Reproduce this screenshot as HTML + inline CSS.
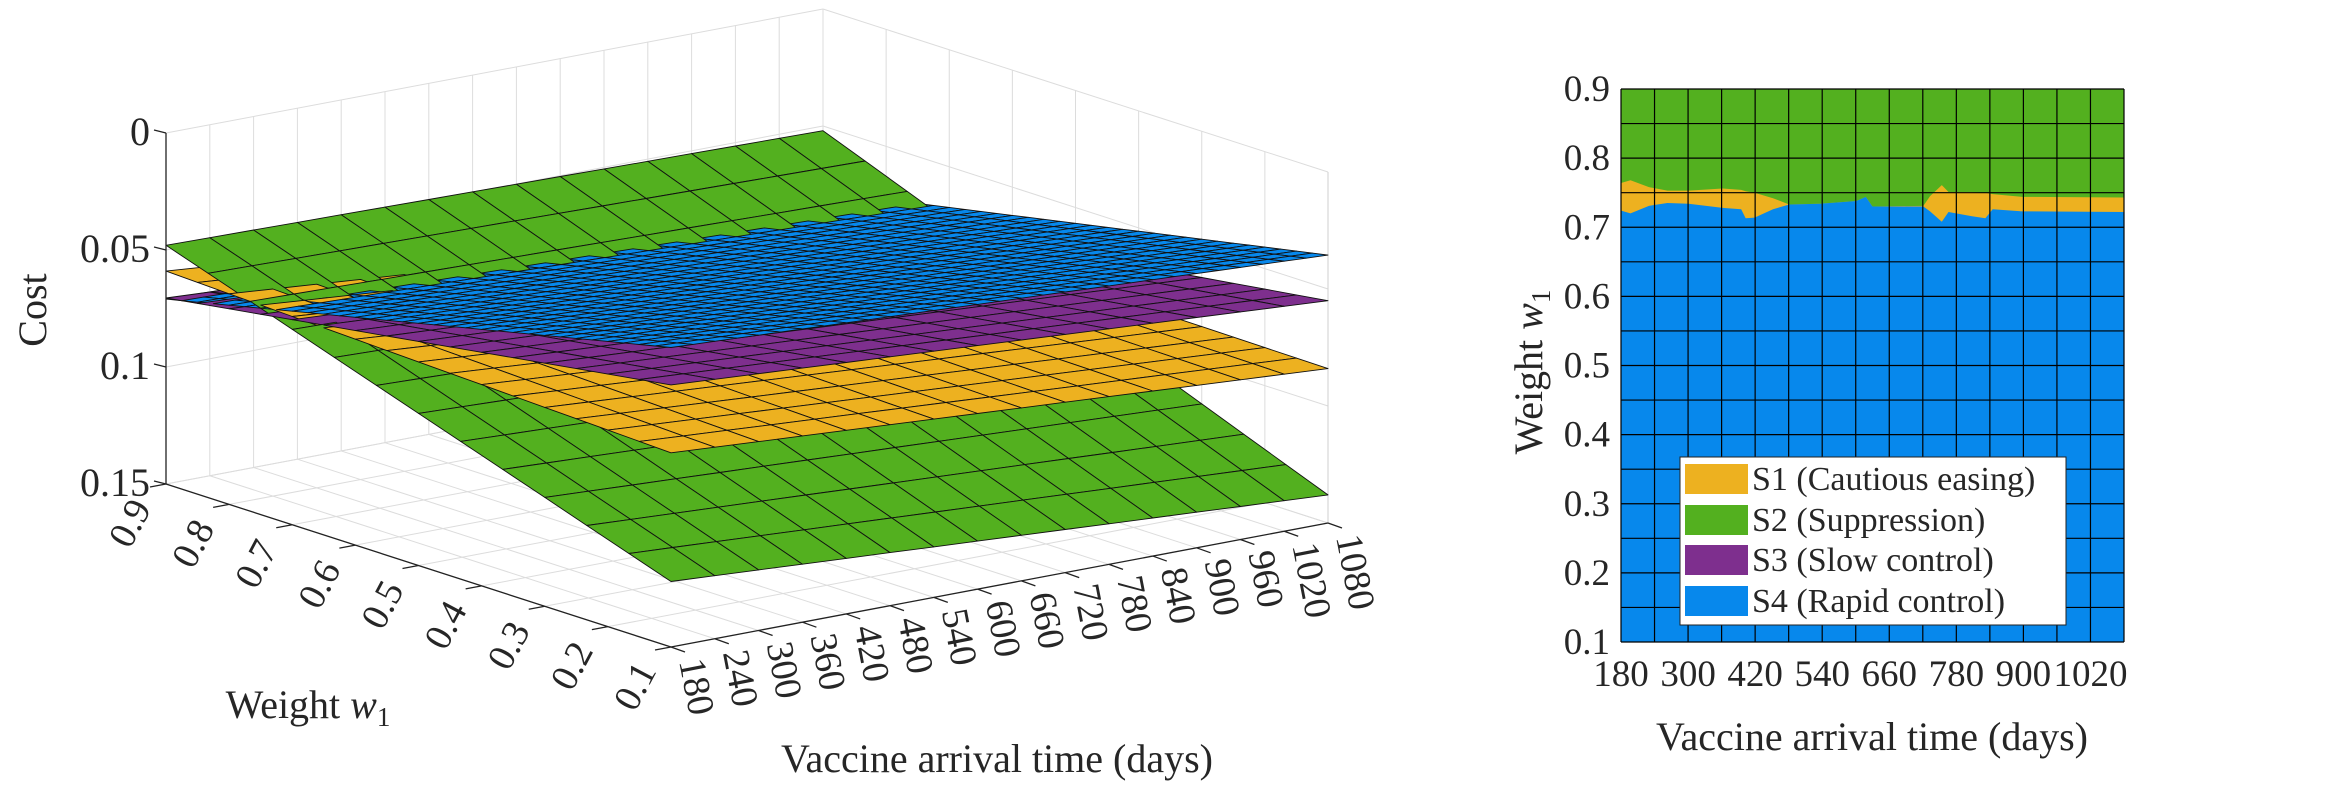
<!DOCTYPE html>
<html><head><meta charset="utf-8"><style>
html,body{margin:0;padding:0;background:#fff;}
svg, svg text{font-family:"Liberation Serif","DejaVu Serif",serif;}
</style></head><body>
<svg id="fig" width="2344" height="781" viewBox="0 0 2344 781" xmlns="http://www.w3.org/2000/svg" font-family="Liberation Serif, DejaVu Serif, serif">
<g id="left3d"></g>
<g id="right2d"></g>
</svg>
<script>
// ===== data: 3D surface plot =====
const costTicks = [0, 0.05, 0.1, 0.15];
const costTickLabels = ["0", "0.05", "0.1", "0.15"];
const weightTicks = [0.9, 0.8, 0.7, 0.6, 0.5, 0.4, 0.3, 0.2, 0.1];
const dayTicks = [180,240,300,360,420,480,540,600,660,720,780,840,900,960,1020,1080];
// corner costs [w=0.9,d=180], [w=0.9,d=1080], [w=0.1,d=180], [w=0.1,d=1080]
const costS1 = [0.059, 0.082, 0.067, 0.084];
const costS2 = [0.048, 0.052, 0.122, 0.138];
const costS3 = [0.0705, 0.085, 0.038, 0.055];
const costS4 = [0.071, 0.078, 0.022, 0.0355];
// ===== data: 2D region plot =====
const regionDays = [180,197,230,263,301,362,395,403,419,452,481,535,601,618,630,721,733,754,766,808,832,845,898,1080];
const s4Top = [0.724,0.720,0.731,0.735,0.734,0.728,0.726,0.713,0.714,0.726,0.733,0.734,0.738,0.744,0.730,0.730,0.723,0.708,0.722,0.716,0.713,0.726,0.723,0.722];
const s1Top = [0.764,0.768,0.758,0.753,0.753,0.756,0.754,0.752,0.750,0.742,0.733,0.734,0.738,0.744,0.730,0.731,0.745,0.761,0.751,0.751,0.750,0.748,0.744,0.743];
const xTicks2 = [180,300,420,540,660,780,900,1020];
const yTicks2 = [0.1,0.2,0.3,0.4,0.5,0.6,0.7,0.8,0.9];
const legendLabels = ["S1 (Cautious easing)","S2 (Suppression)","S3 (Slow control)","S4 (Rapid control)"];

const NS="http://www.w3.org/2000/svg";
const FF="Liberation Serif, DejaVu Serif, serif";
const COL={s1:"#edb120",s2:"#53b01f",s3:"#7e2f8e",s4:"#0788ec"};
function mk(tag,attrs,parent){const e=document.createElementNS(NS,tag);for(const k in attrs)e.setAttribute(k,attrs[k]);parent.appendChild(e);return e;}

const L=document.getElementById('left3d');
function P(w,d,c){const a=(0.9-w)/0.8,b=(d-180)/900;return [166+505*a+657*b,484+163*a-124*b-(0.15-c)/0.15*351];}
function near(w,d,c){const a=(0.9-w)/0.8,b=(d-180)/900;return 3.84*(163*a-124*b)+0.252*(0.15-c)/0.15*363;}
function line3(p,q,col,sw,parent,name){const A=P(...p),B=P(...q);const e=mk('line',{x1:A[0],y1:A[1],x2:B[0],y2:B[1],stroke:col,'stroke-width':sw},parent);return e;}
const grid=mk('g',{},L);


const gc="#dcdcdc";
dayTicks.forEach(d=>line3([0.9,d,0],[0.9,d,0.15],gc,1,grid,'wall-grid-day'));
costTicks.forEach(c=>line3([0.9,180,c],[0.9,1080,c],gc,1,grid,'wall-grid-cost'));
weightTicks.forEach(w=>line3([w,1080,0],[w,1080,0.15],gc,1,grid,'wall-grid-weight'));
costTicks.forEach(c=>line3([0.9,1080,c],[0.1,1080,c],gc,1,grid,'wall-grid-cost'));
weightTicks.forEach(w=>line3([w,180,0.15],[w,1080,0.15],gc,1,grid,'floor-grid-weight'));
dayTicks.forEach(d=>line3([0.9,d,0.15],[0.1,d,0.15],gc,1,grid,'floor-grid-day'));
line3([0.1,1080,0],[0.1,1080,0.15],"#cfcfcf",1,grid,'box-edge');

function bil(cs,w,d){const a=(0.9-w)/0.8,b=(d-180)/900;return cs[0]*(1-a)*(1-b)+cs[1]*(1-a)*b+cs[2]*a*(1-b)+cs[3]*a*b;}
const quads=[];
function addSurf(cs,col,nw,nd,name){
  for(let i=0;i<nw;i++)for(let j=0;j<nd;j++){
    const w0=0.9-0.8*i/nw,w1=0.9-0.8*(i+1)/nw,d0=180+900*j/nd,d1=180+900*(j+1)/nd;
    const pts=[[w0,d0],[w0,d1],[w1,d1],[w1,d0]].map(p=>[p[0],p[1],bil(cs,p[0],p[1])]);
    const n=pts.reduce((s,p)=>s+near(...p),0)/4;
    quads.push({pts,col,n,name});
  }
}
addSurf(costS2,COL.s2,12,15,'s2-surface-cell');
addSurf(costS1,COL.s1,16,15,'s1-surface-cell');
addSurf(costS3,COL.s3,16,15,'s3-surface-cell');
addSurf(costS4,COL.s4,32,30,'s4-surface-cell');
quads.sort((a,b)=>a.n-b.n);
const sg=mk('g',{},L);


quads.forEach(q=>{
  const s=q.pts.map(p=>P(...p).map(v=>v.toFixed(1)).join(',')).join(' ');
  const e=mk('polygon',{points:s,fill:q.col,stroke:'#111','stroke-width':0.9,'stroke-linejoin':'round'},sg);
  
  
});

const ax=mk('g',{},L);


line3([0.9,180,0],[0.9,180,0.15],"#222",1.3,ax,'cost-axis-line');
line3([0.9,180,0.15],[0.1,180,0.15],"#222",1.3,ax,'weight-axis-line');
line3([0.1,180,0.15],[0.1,1080,0.15],"#222",1.3,ax,'day-axis-line');
costTicks.forEach((c,i)=>{
  const p=P(0.9,180,c);
  const t=mk('line',{x1:p[0]-12,y1:p[1]-3,x2:p[0],y2:p[1],stroke:'#222','stroke-width':1.3},ax);
  
  
  const tx=mk('text',{x:p[0]-16,y:p[1]+12,'font-size':40,'font-family':FF,'text-anchor':'end',fill:'#262626'},ax);
  tx.textContent=costTickLabels[i];
  
  
});
weightTicks.forEach(w=>{
  const p=P(w,180,0.15);
  const t=mk('line',{x1:p[0]-16,y1:p[1]+3,x2:p[0],y2:p[1],stroke:'#222','stroke-width':1.3},ax);
  
  
  const x=p[0]-14,y=p[1]+24;
  const tx=mk('text',{x:x,y:y,'font-size':38,'font-family':FF,'text-anchor':'end',fill:'#262626',transform:`rotate(-62 ${x} ${y})`},ax);
  tx.textContent=String(w);
  
  
});
dayTicks.forEach(d=>{
  const p=P(0.1,d,0.15);
  const t=mk('line',{x1:p[0]+14,y1:p[1]+5,x2:p[0],y2:p[1],stroke:'#222','stroke-width':1.3},ax);
  
  
  const x=p[0]+8,y=p[1]+14;
  const tx=mk('text',{x:x,y:y,'font-size':38,'font-family':FF,'text-anchor':'start',fill:'#262626',transform:`rotate(79 ${x} ${y})`},ax);
  tx.textContent=String(d);
  
  
});
</script>
<script>
(function(){
const L=document.getElementById('left3d');
const NS="http://www.w3.org/2000/svg";
const FF="Liberation Serif, DejaVu Serif, serif";
let t=document.createElementNS(NS,'text');
t.setAttribute('x',46);t.setAttribute('y',310);t.setAttribute('font-size',40);t.setAttribute('font-family',FF);t.setAttribute('text-anchor','middle');t.setAttribute('fill','#262626');t.setAttribute('transform','rotate(-90 46 310)');
t.textContent='Cost';


L.appendChild(t);
t=document.createElementNS(NS,'text');
t.setAttribute('x',308);t.setAttribute('y',718);t.setAttribute('font-size',40);t.setAttribute('font-family',FF);t.setAttribute('text-anchor','middle');t.setAttribute('fill','#262626');
t.innerHTML='Weight <tspan font-style="italic">w</tspan><tspan font-size="27" dy="8">1</tspan>';


L.appendChild(t);
t=document.createElementNS(NS,'text');
t.setAttribute('x',997);t.setAttribute('y',772);t.setAttribute('font-size',40);t.setAttribute('font-family',FF);t.setAttribute('text-anchor','middle');t.setAttribute('fill','#262626');
t.textContent='Vaccine arrival time (days)';


L.appendChild(t);
})();

(function(){
const R=document.getElementById('right2d');
const NS="http://www.w3.org/2000/svg";
const FF="Liberation Serif, DejaVu Serif, serif";
function mk(tag,attrs){const e=document.createElementNS(NS,tag);for(const k in attrs)e.setAttribute(k,attrs[k]);R.appendChild(e);return e;}
const X0=1621,X1=2124,Y0=642,Y1=89;
const xs=d=>X0+(d-180)/900*(X1-X0);
const ys=w=>Y0-(w-0.1)/0.8*(Y0-Y1);
let e=mk('rect',{x:X0,y:Y1,width:X1-X0,height:Y0-Y1,fill:'#53b01f'});


let pts=regionDays.map((d,i)=>xs(d)+','+ys(s1Top[i])).join(' ')+` ${X1},${Y0} ${X0},${Y0}`;
e=mk('polygon',{points:pts,fill:'#edb120'});


pts=regionDays.map((d,i)=>xs(d)+','+ys(s4Top[i])).join(' ')+` ${X1},${Y0} ${X0},${Y0}`;
e=mk('polygon',{points:pts,fill:'#0788ec'});


for(let k=0;k<=15;k++){const x=xs(180+60*k);e=mk('line',{x1:x,y1:Y1,x2:x,y2:Y0,stroke:'#000','stroke-width':1.2});

}
for(let k=0;k<=16;k++){const y=ys(0.1+0.05*k);e=mk('line',{x1:X0,y1:y,x2:X1,y2:y,stroke:'#000','stroke-width':1.2});

}
yTicks2.forEach(w=>{e=mk('text',{x:1610,y:ys(w)+12,'font-size':37,'font-family':FF,'text-anchor':'end',fill:'#262626'});e.textContent=w.toFixed(1);

});
xTicks2.forEach(d=>{e=mk('text',{x:xs(d),y:686,'font-size':37,'font-family':FF,'text-anchor':'middle',fill:'#262626'});e.textContent=String(d);

});
e=mk('text',{x:1872,y:750,'font-size':40,'font-family':FF,'text-anchor':'middle',fill:'#262626'});e.textContent='Vaccine arrival time (days)';


e=mk('text',{x:1542,y:372,'font-size':40,'font-family':FF,'text-anchor':'middle',fill:'#262626',transform:'rotate(-90 1542 372)'});
e.innerHTML='Weight <tspan font-style="italic">w</tspan><tspan font-size="27" dy="8">1</tspan>';


const lg=document.createElementNS(NS,'g');R.appendChild(lg);


let r=document.createElementNS(NS,'rect');
[['x',1680],['y',457],['width',386],['height',168],['fill','#fff'],['stroke','#222'],['stroke-width',1]].forEach(a=>r.setAttribute(a[0],a[1]));lg.appendChild(r);


const cols=['#edb120','#53b01f','#7e2f8e','#0788ec'];
const cy=[479,520,560,601];
legendLabels.forEach((s,i)=>{
  const sw=document.createElementNS(NS,'rect');
  [['x',1685],['y',cy[i]-15],['width',63],['height',30],['fill',cols[i]]].forEach(a=>sw.setAttribute(a[0],a[1]));lg.appendChild(sw);
  
  
  const t=document.createElementNS(NS,'text');
  [['x',1752],['y',cy[i]+11],['font-size',34],['font-family',FF],['fill','#262626']].forEach(a=>t.setAttribute(a[0],a[1]));
  t.textContent=s;lg.appendChild(t);
  
  
});
})();
</script>
</body></html>
